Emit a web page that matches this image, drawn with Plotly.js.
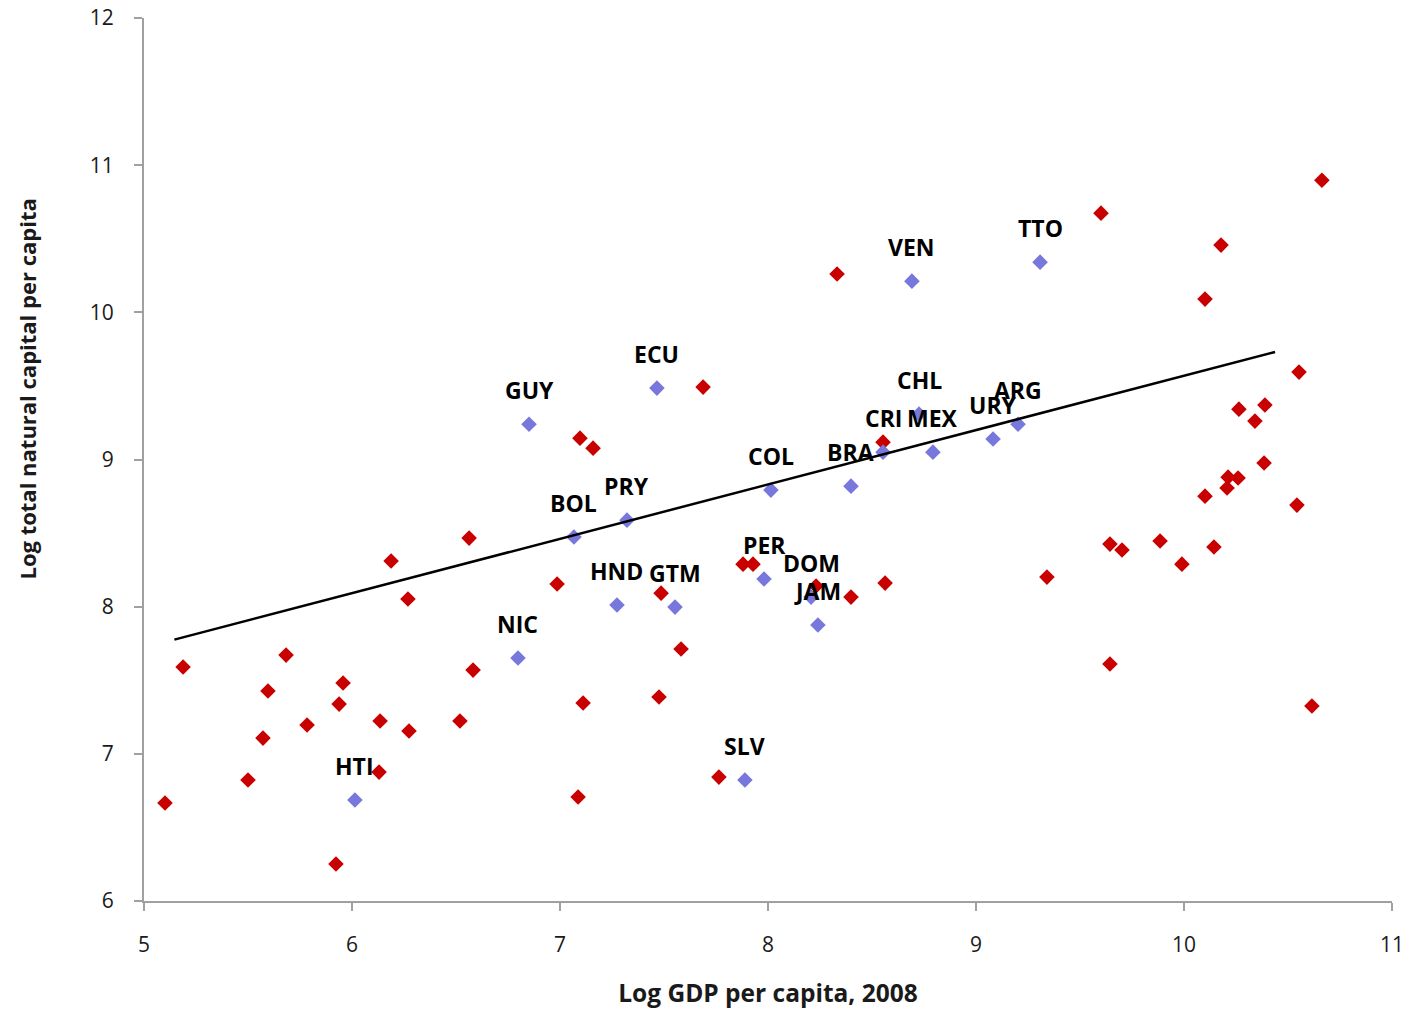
<!DOCTYPE html>
<html>
<head>
<meta charset="utf-8">
<script src="https://cdn.plot.ly/plotly-3.0.1.min.js"></script>
<style>html,body{margin:0;padding:0;background:#fff;}#chart{width:1406px;height:1012px;}</style>
</head>
<body>
<div id="chart"></div>
<script>
// Latin American countries (labelled, blue)
const latamCodes = ["HTI","NIC","BOL","PRY","GUY","ECU","HND","GTM","SLV","COL","PER","DOM","JAM","BRA","CRI","CHL","MEX","URY","ARG","VEN","TTO"];
const latamGDP = [6.014,6.798,7.067,7.322,6.851,7.466,7.274,7.553,7.889,8.014,7.981,8.207,8.240,8.399,8.553,8.726,8.793,9.082,9.202,8.692,9.308];
const latamNatCap = [6.686,7.651,8.473,8.588,9.240,9.485,8.011,7.997,6.822,8.792,8.188,8.065,7.875,8.819,9.050,9.308,9.050,9.139,9.240,10.212,10.341];

// Other countries (red)
const otherGDP = [
  6.563,6.188,6.269,5.188,5.683,5.596,5.957,5.938,6.582,5.784,6.135,6.274,6.519,5.572,6.130,5.500,5.101,5.923,
  7.688,7.096,7.159,6.986,7.486,7.880,7.928,8.231,8.399,7.582,7.111,7.476,7.764,7.087,
  8.332,8.553,8.563,9.341,
  10.663,9.601,10.178,10.101,10.553,10.264,10.389,10.341,10.385,10.212,10.260,10.207,10.101,10.543,9.644,9.702,9.885,10.144,9.990,9.644,10.615
];
const otherNatCap = [
  8.466,8.310,8.052,7.590,7.671,7.427,7.481,7.338,7.569,7.196,7.223,7.155,7.223,7.107,6.876,6.822,6.666,6.251,
  9.492,9.145,9.077,8.154,8.092,8.289,8.289,8.140,8.065,7.712,7.345,7.386,6.842,6.707,
  10.260,9.118,8.160,8.201,
  10.898,10.674,10.457,10.090,9.594,9.342,9.370,9.261,8.976,8.880,8.874,8.806,8.751,8.690,8.425,8.385,8.446,8.405,8.289,7.610,7.325
];

// Linear trend line (end points)
const trendGDP = [5.146, 10.438];
const trendNatCap = [7.776, 9.731];

const xTicks = [5,6,7,8,9,10,11];
const yTicks = [6,7,8,9,10,11,12];

const xTitle = "Log GDP per capita, 2008";
const yTitle = "Log total natural capital per capita";

const FONT = "'Open Sans', 'Liberation Sans', sans-serif";

const traces = [
  {x: otherGDP, y: otherNatCap, type: "scatter", mode: "markers",
   marker: {symbol: "diamond", size: 12, color: "#C80000"}, hoverinfo: "x+y"},
  {x: latamGDP, y: latamNatCap, type: "scatter", mode: "markers", text: latamCodes,
   marker: {symbol: "diamond", size: 12, color: "#7878DC"}, hoverinfo: "text+x+y"},
  {x: trendGDP, y: trendNatCap, type: "scatter", mode: "lines",
   line: {color: "#000000", width: 2.5}, hoverinfo: "skip"}
];

const annotations = latamCodes.map((c, i) => ({
  x: latamGDP[i], y: latamNatCap[i], xref: "x", yref: "y",
  text: "<b>" + c + "</b>", showarrow: false, yshift: 34,
  font: {family: FONT, size: 23, color: "#000000"}
}));

annotations.push({
  xref: "paper", yref: "paper", x: -0.094, y: 0.58,
  xanchor: "center", yanchor: "middle", textangle: -90, showarrow: false,
  text: "<b>" + yTitle + "</b>",
  font: {family: FONT, size: 22, color: "#1a1a1a"}
});

const axisCommon = {
  showgrid: false, zeroline: false, showline: true,
  linecolor: "#A0A0A0", linewidth: 2,
  ticks: "outside", ticklen: 8, tickwidth: 2, tickcolor: "#A0A0A0",
  tickfont: {family: FONT, size: 21, color: "#1a1a1a"}
};

const layout = {
  width: 1406, height: 1012,
  margin: {l: 144, r: 14, t: 18, b: 111},
  paper_bgcolor: "#ffffff", plot_bgcolor: "#ffffff",
  showlegend: false,
  xaxis: Object.assign({}, axisCommon, {
    range: [5, 11], tickvals: xTicks, ticktext: xTicks.map(String),
    ticklabelstandoff: 16,
    title: {text: "<b>" + xTitle + "</b>", font: {family: FONT, size: 24.5, color: "#1a1a1a"}, standoff: 28}
  }),
  yaxis: Object.assign({}, axisCommon, {
    range: [6, 12], tickvals: yTicks, ticktext: yTicks.map(String),
    ticklabelstandoff: 16
  }),
  annotations: annotations
};

Plotly.newPlot("chart", traces, layout, {displayModeBar: false, staticPlot: true});
</script>
</body>
</html>
